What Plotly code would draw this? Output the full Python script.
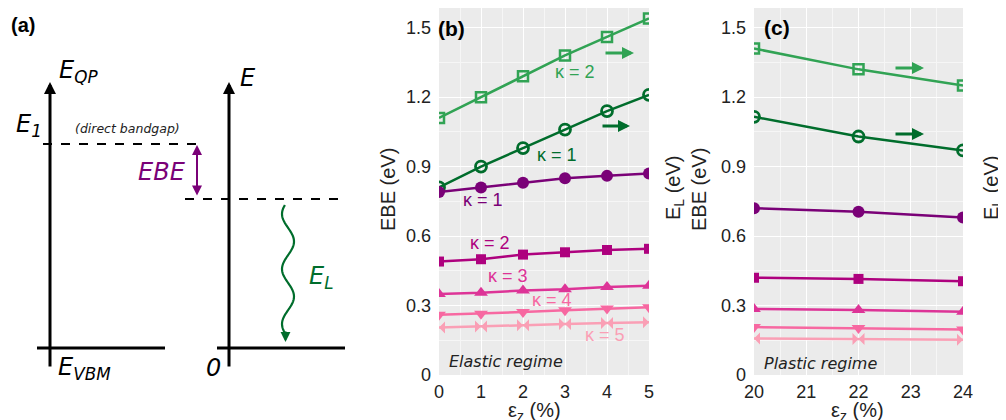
import numpy as np
import plotly.graph_objects as go

# ---------------- data ----------------
strain_elastic = [0, 1, 2, 3, 4, 5]
strain_plastic = [20, 22, 24]

el_k2_elastic = [1.11, 1.20, 1.29, 1.38, 1.46, 1.54]
el_k1_elastic = [0.81, 0.90, 0.98, 1.06, 1.14, 1.21]
ebe_k1_elastic = [0.79, 0.81, 0.83, 0.85, 0.86, 0.87]
ebe_k2_elastic = [0.49, 0.50, 0.52, 0.53, 0.54, 0.545]
ebe_k3_elastic = [0.35, 0.355, 0.365, 0.37, 0.38, 0.385]
ebe_k4_elastic = [0.26, 0.265, 0.272, 0.28, 0.287, 0.293]
ebe_k5_elastic = [0.205, 0.209, 0.215, 0.22, 0.225, 0.228]

el_k2_plastic = [1.41, 1.32, 1.25]
el_k1_plastic = [1.115, 1.03, 0.97]
ebe_k1_plastic = [0.72, 0.705, 0.68]
ebe_k2_plastic = [0.42, 0.415, 0.405]
ebe_k3_plastic = [0.285, 0.281, 0.273]
ebe_k4_plastic = [0.207, 0.203, 0.197]
ebe_k5_plastic = [0.158, 0.155, 0.152]

y_ticks = [0, 0.3, 0.6, 0.9, 1.2, 1.5]
y_ticktext = ["0", "0.3", "0.6", "0.9", "1.2", "1.5"]

# ---------------- style ----------------
OFF = 8                      # page body margin of the browser
W, H = 1006 - OFF, 420 - OFF
C_EL2 = "#31A354"
C_EL1 = "#006D2C"
C_K1 = "#7A0177"
C_K2 = "#AE017E"
C_K3 = "#DD3497"
C_K4 = "#F768A1"
C_K5 = "#FA9FB5"
SANS = "Liberation Sans, Arial, sans-serif"
DJV = "DejaVu Sans, sans-serif"


def px(x):
    return (x - OFF) / W


def py(y):
    return 1 - (y - OFF) / H


B_L, B_R = 439, 649
C_L, C_R = 754, 963
P_T, P_B = 8, 375
Y_TOP = 1.585

series = [
    ("EL k2", el_k2_elastic, el_k2_plastic, C_EL2, "square-open", 10, 2.5),
    ("EL k1", el_k1_elastic, el_k1_plastic, C_EL1, "circle-open", 11, 2.8),
    ("EBE k1", ebe_k1_elastic, ebe_k1_plastic, C_K1, "circle", 12, 0),
    ("EBE k2", ebe_k2_elastic, ebe_k2_plastic, C_K2, "square", 10, 0),
    ("EBE k3", ebe_k3_elastic, ebe_k3_plastic, C_K3, "triangle-up", 12, 0),
    ("EBE k4", ebe_k4_elastic, ebe_k4_plastic, C_K4, "triangle-down", 12, 0),
    ("EBE k5", ebe_k5_elastic, ebe_k5_plastic, C_K5, "bowtie", 12, 0),
]

fig = go.Figure()
for name, ye, yp, col, sym, size, lw in series:
    mk = dict(symbol=sym, size=size, color=col)
    if lw:
        mk["line"] = dict(color=col, width=lw)
    fig.add_trace(go.Scatter(x=strain_elastic, y=ye, mode="lines+markers", name=name,
                             line=dict(color=col, width=2.5), marker=mk, cliponaxis=True,
                             xaxis="x", yaxis="y", showlegend=False))
    fig.add_trace(go.Scatter(x=strain_plastic, y=yp, mode="lines+markers", name=name,
                             line=dict(color=col, width=2.5), marker=mk, cliponaxis=True,
                             xaxis="x2", yaxis="y2", showlegend=False))

ydom = [py(P_B), py(P_T)]
yax = dict(range=[0, Y_TOP], tickvals=y_ticks, ticktext=y_ticktext, showgrid=True,
           gridcolor="white", gridwidth=1.4, zeroline=False, showline=False,
           ticks="", ticklabelstandoff=7, automargin=False,
           tickfont=dict(family=SANS, size=18, color="#222"),
           minor=dict(dtick=0.15, tick0=0, showgrid=True, gridcolor="#F6F6F6", gridwidth=0.8),
           domain=ydom)
xcommon = dict(showgrid=True, gridcolor="white", gridwidth=1.4, zeroline=False,
               showline=False, ticks="", ticklabelstandoff=4, automargin=False,
               tickfont=dict(family=SANS, size=18, color="#222"))

fig.update_layout(
    width=W, height=H, margin=dict(l=0, r=0, t=0, b=0, pad=0, autoexpand=False),
    paper_bgcolor="white", plot_bgcolor="#EBEBEB",
    xaxis=dict(domain=[px(B_L), px(B_R)], range=[0, 5], dtick=1,
               minor=dict(dtick=0.5, showgrid=True, gridcolor="#F6F6F6", gridwidth=0.8),
               anchor="y", **xcommon),
    yaxis=dict(anchor="x", **yax),
    xaxis2=dict(domain=[px(C_L), px(C_R)], range=[20, 24], dtick=1,
                minor=dict(dtick=0.5, showgrid=True, gridcolor="#F6F6F6", gridwidth=0.8),
                anchor="y2", **xcommon),
    yaxis2=dict(anchor="x2", **yax),
)

ann = []
shapes = []


def text(x, y, t, size=17, color="#222", family=SANS, angle=0, xanchor="center"):
    ann.append(dict(x=px(x), y=py(y), xref="paper", yref="paper", text=t, showarrow=False,
                    font=dict(family=family, size=size, color=color), textangle=angle,
                    xanchor=xanchor, yanchor="middle", borderpad=0))


def arrow(x0, y0, x1, y1, color, width, head=2, size=1.0, side="end"):
    ann.append(dict(x=px(x1), y=py(y1), ax=x0 - x1, ay=y0 - y1, xref="paper", yref="paper",
                    axref="pixel", ayref="pixel", text="", showarrow=True,
                    arrowhead=head, arrowsize=size, arrowwidth=width, arrowcolor=color,
                    arrowside=side, startarrowhead=head, startarrowsize=size))


def line(x0, y0, x1, y1, color="black", width=3, dash="solid"):
    shapes.append(dict(type="line", xref="paper", yref="paper", x0=px(x0), y0=py(y0),
                       x1=px(x1), y1=py(y1), line=dict(color=color, width=width, dash=dash)))


def mask(x0, x1):
    # white strip outside the panel so edge markers look clipped at the axis
    shapes.append(dict(type="rect", xref="paper", yref="paper", x0=px(x0), x1=px(x1),
                       y0=py(P_B + 1), y1=py(P_T), layer="above",
                       fillcolor="white", line=dict(width=0)))


mask(B_L - 6.5, B_L)
mask(B_R, B_R + 7)
mask(C_L - 6.5, C_L)
mask(C_R, C_R + 7)

# ---------- panel (a) ----------
text(23, 25, "<b>(a)</b>", size=20, color="black")
arrow(50, 368, 50, 82, "black", 3, head=2, size=0.8)
arrow(229, 368, 229, 82, "black", 3, head=2, size=0.8)
line(37, 348, 165, 348)
line(217, 348, 345, 348)
line(43, 144, 203, 144, width=2, dash="dash")
line(185, 199, 345, 199, width=2, dash="dash")
arrow(197, 197, 197, 145, C_K1, 2, head=2, size=1.0, side="end+start")
text(78, 72, "<i>E</i><sub><i>QP</i></sub>", size=24, color="black", family=DJV)
text(29, 125, "<i>E</i><sub><i>1</i></sub>", size=24, color="black", family=DJV)
text(127, 129, "<i>(direct bandgap)</i>", size=12.5, color="#222", family=DJV)
text(84, 368, "<i>E</i><sub><i>VBM</i></sub>", size=24, color="black", family=DJV)
text(248, 78, "<i>E</i>", size=24, color="black", family=DJV)
text(213, 368, "<i>0</i>", size=24, color="black", family=DJV)
text(162, 172, "<i>EBE</i>", size=24, color=C_K1, family=DJV)
text(321, 277, "<i>E</i><sub><i>L</i></sub>", size=24, color=C_EL1, family=DJV)

# wavy emission arrow (decorative path)
yy = np.linspace(205, 334, 80)
xx = 288 - 6 * np.sin(2 * np.pi * (yy - 214) / 55 + np.pi / 2)
path = "M " + " L ".join(f"{px(a):.5f},{py(b):.5f}" for a, b in zip(xx, yy))
shapes.append(dict(type="path", xref="paper", yref="paper", path=path,
                   line=dict(color=C_EL1, width=2.2)))
arrow(xx[-1], 330, xx[-1], 342, C_EL1, 2.2, head=2, size=0.9)

# ---------- panel (b) ----------
text(451, 29, "<b>(b)</b>", size=21, color="black")
text(388, 190, "EBE (eV)", size=20, angle=-90)
text(674, 188, "E<sub>L</sub> (eV)", size=20, angle=-90)
text(534, 411, "ε<sub>z</sub> (%)", size=20)
text(506, 361, "<i>Elastic regime</i>", size=16, family=DJV)
text(575, 72, "κ = 2", size=18, color=C_EL2)
text(557, 155, "κ = 1", size=18, color=C_EL1)
text(483, 200, "κ = 1", size=18, color=C_K1)
text(490, 243, "κ = 2", size=18, color=C_K2)
text(508, 276, "κ = 3", size=18, color=C_K3)
text(552, 300, "κ = 4", size=18, color=C_K4)
text(605, 335, "κ = 5", size=18, color=C_K5)
arrow(604, 53, 634, 53, C_EL2, 3, head=2, size=0.8)
arrow(601, 126, 630, 126, C_EL1, 3, head=2, size=0.8)

# ---------- panel (c) ----------
text(777, 28, "<b>(c)</b>", size=21, color="black")
text(699, 190, "EBE (eV)", size=20, angle=-90)
text(992, 188, "E<sub>L</sub> (eV)", size=20, angle=-90)
text(857, 411, "ε<sub>z</sub> (%)", size=20)
text(820, 363, "<i>Plastic regime</i>", size=16, family=DJV)
arrow(894, 68, 924, 68, C_EL2, 3, head=2, size=0.8)
arrow(894, 134, 924, 134, C_EL1, 3, head=2, size=0.8)

fig.update_layout(annotations=ann, shapes=shapes)
fig.write_html("out.html")
